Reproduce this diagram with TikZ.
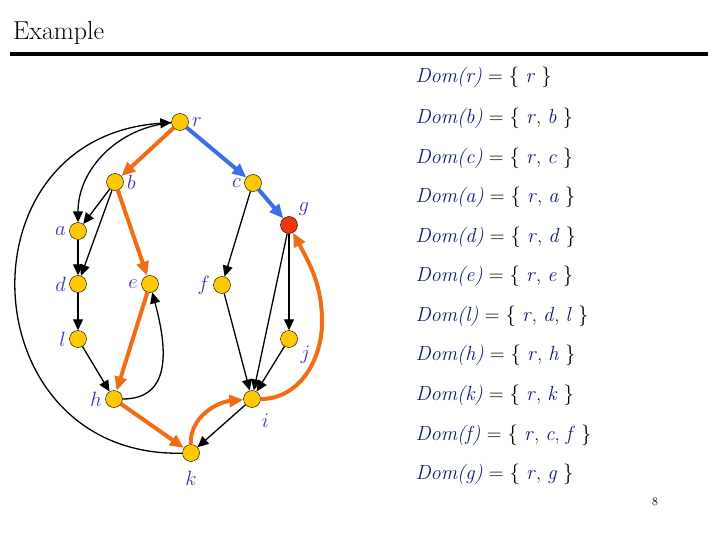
\documentclass[tikz,border=0pt]{standalone}
\usepackage{tikz}
\usepackage{xcolor}
\usetikzlibrary{arrows.meta}

\definecolor{vyellow}{RGB}{255,200,0}
\definecolor{vred}{RGB}{238,55,10}
\definecolor{treeorange}{RGB}{242,108,20}
\definecolor{pathblue}{RGB}{60,110,230}
\definecolor{lblue}{RGB}{55,55,175}
\definecolor{domblue}{RGB}{15,30,110}

\newcommand{\dv}[1]{{\color{domblue}\textit{#1}}}

\tikzset{
  vtx/.style={circle, draw, thin, fill=vyellow, minimum size=17bp, inner sep=0pt},
  lbl/.style={text=lblue, font=\fontsize{20}{24}\selectfont},
  tree/.style={treeorange, line width=4bp, -{Triangle[length=14bp,width=12bp]}},
  idom/.style={pathblue, line width=4bp, -{Triangle[length=14bp,width=12bp]}},
  edge/.style={black, line width=1.3bp, ->},
  domline/.style={anchor=west, font=\fontsize{20.5}{24}\selectfont},
}

\begin{document}
\begin{tikzpicture}[x=1bp, y=1bp, >={Triangle[length=11bp,width=10bp]}]
    \useasboundingbox (0,0) rectangle (720,-540);
    \node[anchor=base west, inner sep=0pt] (title) at (13,-40) {\fontsize{26}{30}\selectfont Example};
    \draw[line width=3.5bp] (10,-54) -- (708,-54);

    % vertices
    \node[vtx, label={[lbl]right:$r$}] (r) at (180,-122) {};
    \node[vtx, label={[lbl]right:$b$}] (b) at (115,-182) {};
    \node[vtx, label={[lbl]left:$c$}] (c) at (253,-183) {};
    \node[vtx, fill=vred, label={[lbl]above right:$g$}] (g) at (289,-225) {};
    \node[vtx, label={[lbl]left:$a$}] (a) at (78,-231) {};
    \node[vtx, label={[lbl]left:$d$}] (d) at (78,-284) {};
    \node[vtx, label={[lbl]left:$e$}] (e) at (150,-284) {};
    \node[vtx, label={[lbl]left:$f$}] (f) at (222,-285) {};
    \node[vtx, label={[lbl]left:$l$}] (l) at (78,-339) {};
    \node[vtx, label={[lbl]-20:$j$}] (j) at (289,-339) {};
    \node[vtx, label={[lbl]left:$h$}] (h) at (114,-399) {};
    \node[vtx, label={[lbl,label distance=4bp]-60:$i$}] (i) at (252,-399) {};
    \node[vtx, label={[lbl,label distance=6bp]below:$k$}] (k) at (191,-453) {};
    \coordinate (bulge) at (322,-322);

    % dominator tree
    \draw[tree] (r) -- (b);
    \draw[idom] (r) -- (c);
    \draw[idom] (c) -- (g);
    \draw[tree] (b) -- (e);
    \draw[tree] (e) -- (h);
    \draw[tree] (h) -- (k);
    \draw[tree] (k) to[out=92,in=185] (i);
    \draw[tree] (i) to[out=0,in=-90] (bulge) to[out=90,in=-62] (g);

    % flow graph edges
    \draw[edge] (b) -- (a);
    \draw[edge] (b) -- (d);
    \draw[edge] (a) -- (d);
    \draw[edge] (d) -- (l);
    \draw[edge] (l) -- (h);
    \draw[edge] (c) -- (f);
    \draw[edge] (f) -- (i);
    \draw[edge] (g) -- (i);
    \draw[edge] (g) -- (j);
    \draw[edge] (j) -- (i);
    \draw[edge] (i) -- (k);
    \draw[edge] (r) to[out=185,in=90] (a);
    \draw[edge] (h) to[out=0,in=-75,looseness=1.2] (e);
    \draw[edge] (k) .. controls +(-220,-5) and +(-225,-15) .. (r);

    % dominator sets
    \node[domline] (dr) at (412,-77) {\dv{Dom(r)} = $\{$ \dv{r} $\}$};
    \node[domline] (db) at (412,-118) {\dv{Dom(b)} = $\{$ \dv{r}, \dv{b} $\}$};
    \node[domline] (dc) at (412,-158) {\dv{Dom(c)} = $\{$ \dv{r}, \dv{c} $\}$};
    \node[domline] (da) at (412,-197) {\dv{Dom(a)} = $\{$ \dv{r}, \dv{a} $\}$};
    \node[domline] (dd) at (412,-237) {\dv{Dom(d)} = $\{$ \dv{r}, \dv{d} $\}$};
    \node[domline] (de) at (412,-276) {\dv{Dom(e)} = $\{$ \dv{r}, \dv{e} $\}$};
    \node[domline] (dl) at (412,-316) {\dv{Dom(l)} = $\{$ \dv{r}, \dv{d}, \dv{l} $\}$};
    \node[domline] (dh) at (412,-355) {\dv{Dom(h)} = $\{$ \dv{r}, \dv{h} $\}$};
    \node[domline] (dk) at (412,-395) {\dv{Dom(k)} = $\{$ \dv{r}, \dv{k} $\}$};
    \node[domline] (df) at (412,-435) {\dv{Dom(f)} = $\{$ \dv{r}, \dv{c}, \dv{f} $\}$};
    \node[domline] (dg) at (412,-474) {\dv{Dom(g)} = $\{$ \dv{r}, \dv{g} $\}$};

    \node (pagenum) at (655,-502) {\fontsize{12}{14}\selectfont 8};
\end{tikzpicture}
\end{document}
